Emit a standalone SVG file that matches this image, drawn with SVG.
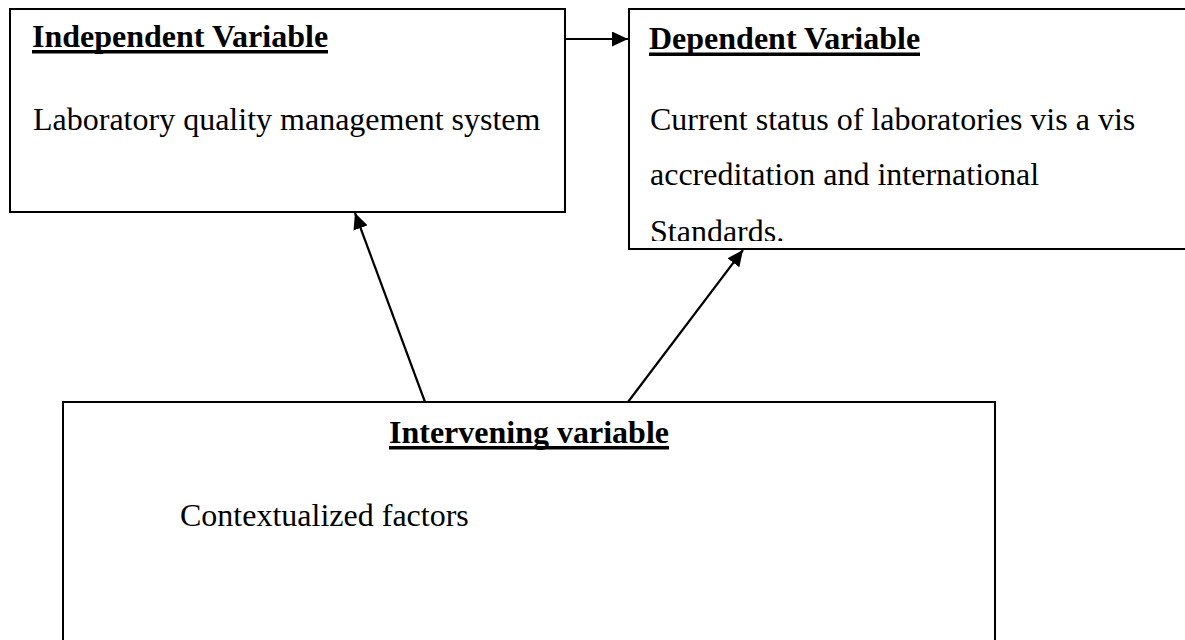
<svg xmlns="http://www.w3.org/2000/svg" width="1185" height="640" viewBox="0 0 1185 640">
  <style>
    .box { fill: #ffffff; stroke: #000000; stroke-width: 2; }
    .title { font-family: "Liberation Serif", "Times New Roman", serif; font-size: 32px; font-weight: bold; fill: #000; }
    .uline { fill: #000; }
    .body { font-family: "Liberation Serif", "Times New Roman", serif; font-size: 32px; fill: #000; }
    .conn { stroke: #000; stroke-width: 2.2; fill: none; }
  </style>
  <defs>
    <marker id="arrow" markerUnits="userSpaceOnUse" markerWidth="17" markerHeight="15" refX="16" refY="7.5" orient="auto">
      <path d="M0,0 L16,7.5 L0,15 Z" fill="#000"/>
    </marker>
    <clipPath id="depClip">
      <rect x="630" y="10" width="560" height="231"/>
    </clipPath>
  </defs>

  <rect width="1185" height="640" fill="#ffffff"/>

  <g id="independent">
    <rect class="box" x="10" y="9" width="555" height="203"/>
    <text class="title" x="32" y="47">Independent Variable</text>
    <rect class="uline" x="32" y="50" width="296" height="3.5"/>
    <text class="body" x="33" y="130">Laboratory quality management system</text>
  </g>

  <g id="dependent">
    <rect class="box" x="629" y="9" width="600" height="240"/>
    <text class="title" x="649" y="49">Dependent Variable</text>
    <rect class="uline" x="649" y="52.5" width="271" height="3.5"/>
    <g clip-path="url(#depClip)">
      <text class="body" x="650" y="130">Current status of laboratories vis a vis</text>
      <text class="body" x="650" y="185">accreditation and international</text>
      <text class="body" x="650" y="242">Standards.</text>
    </g>
  </g>

  <g id="intervening">
    <rect class="box" x="63" y="402" width="932" height="260"/>
    <text class="title" x="389" y="443">Intervening variable</text>
    <rect class="uline" x="389" y="446" width="280" height="3.5"/>
    <text class="body" x="180" y="526">Contextualized factors</text>
  </g>

  <g id="connectors">
    <line class="conn" x1="565" y1="39" x2="628" y2="39" marker-end="url(#arrow)"/>
    <line class="conn" x1="425" y1="402" x2="355" y2="213" marker-end="url(#arrow)"/>
    <line class="conn" x1="628" y1="402" x2="743" y2="250" marker-end="url(#arrow)"/>
  </g>
</svg>
